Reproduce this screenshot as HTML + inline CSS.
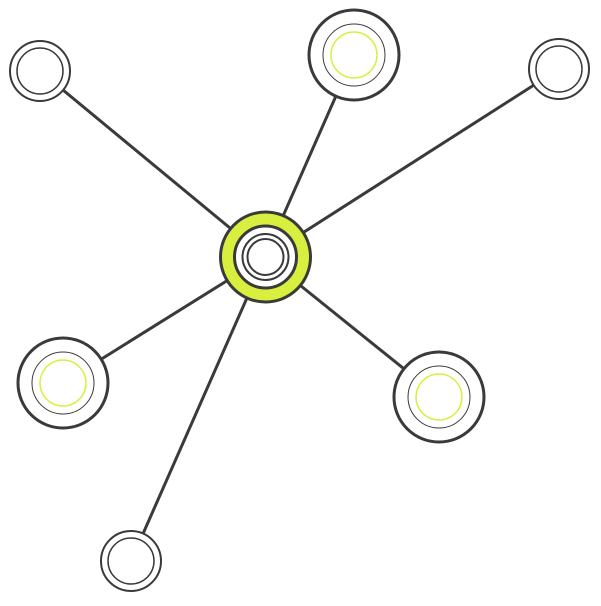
<!DOCTYPE html>
<html><head><style>html,body{margin:0;padding:0;background:#fff}</style></head><body>
<svg width="601" height="601" viewBox="0 0 601 601" xmlns="http://www.w3.org/2000/svg">
<g stroke="#3a3a3a" stroke-width="3" fill="none">
<line x1="265" y1="257" x2="40" y2="71"/>
<line x1="265" y1="257" x2="354" y2="55"/>
<line x1="265" y1="257" x2="559" y2="69"/>
<line x1="265" y1="257" x2="63" y2="383"/>
<line x1="265" y1="257" x2="439" y2="397"/>
<line x1="265" y1="257" x2="131" y2="561"/>
</g>
<g fill="#fff" stroke="#3a3a3a">
<circle cx="40" cy="71" r="30" stroke-width="2"/><circle cx="40" cy="71" r="23" stroke-width="1.5"/>
<circle cx="559" cy="69" r="30" stroke-width="2"/><circle cx="559" cy="69" r="23" stroke-width="1.5"/>
<circle cx="131" cy="561" r="30" stroke-width="2"/><circle cx="131" cy="561" r="23" stroke-width="1.5"/>
<circle cx="354" cy="55" r="45" stroke-width="3"/><circle cx="354" cy="55" r="31" stroke-width="1"/>
<circle cx="63" cy="383" r="45" stroke-width="3"/><circle cx="63" cy="383" r="31" stroke-width="1"/>
<circle cx="439" cy="397" r="45" stroke-width="3"/><circle cx="439" cy="397" r="31" stroke-width="1"/>
</g>
<g fill="none" stroke="#d9ef3f" stroke-width="1.5">
<circle cx="354" cy="55" r="23"/><circle cx="63" cy="383" r="23"/><circle cx="439" cy="397" r="23"/>
</g>
<circle cx="265.5" cy="257" r="45" fill="#d9ef3f" stroke="#3a3a3a" stroke-width="3"/>
<circle cx="265.5" cy="257" r="31" fill="#fff" stroke="#3a3a3a" stroke-width="3"/>
<circle cx="265.5" cy="257" r="23" fill="none" stroke="#3a3a3a" stroke-width="2"/>
<circle cx="265.5" cy="257" r="18" fill="none" stroke="#3a3a3a" stroke-width="2"/>
</svg>
</body></html>
